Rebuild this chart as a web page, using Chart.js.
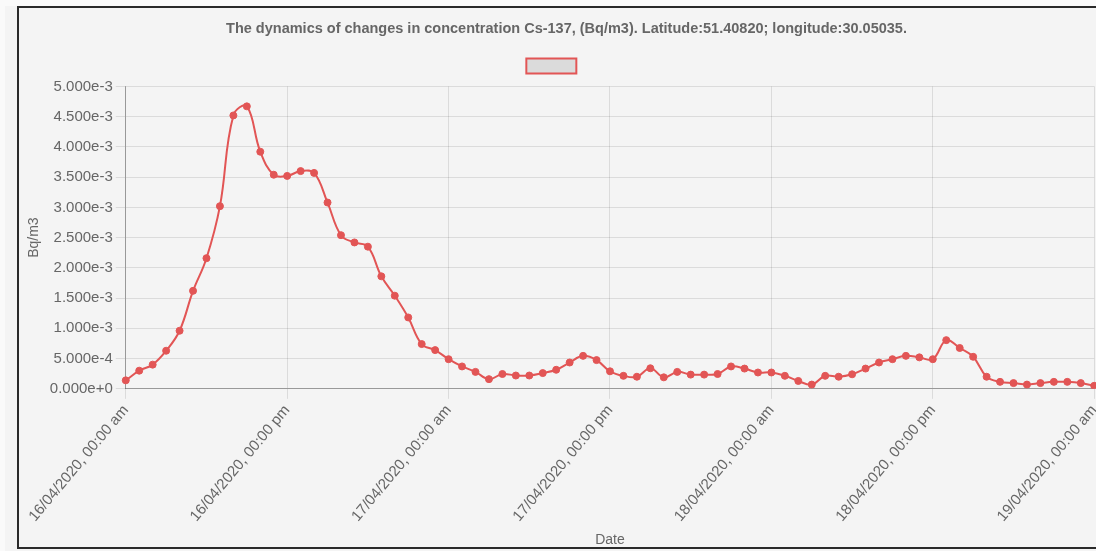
<!DOCTYPE html>
<html>
<head>
<meta charset="utf-8">
<script src="https://cdn.jsdelivr.net/npm/chart.js@4.4.0/dist/chart.umd.min.js"></script>
<style>
    body { margin: 0; background: #fafafa; overflow: hidden; font-family: "Liberation Sans", Arial, sans-serif; }
    #back { position: absolute; left: 5px; top: 6px; width: 1200px; height: 560px; background: #f4f4f4; }
    #box { position: absolute; left: 17px; top: 6px; width: 1092px; height: 539px; border: 2px solid #2a2a2a; background: #f4f4f4; }
    #wrap { position: relative; width: 1092px; height: 539px; }
</style>
</head>
<body>
<div id="back"></div>
<div id="box"><div id="wrap"><canvas id="cs137Chart"></canvas></div></div>
<script>
const chartTitle = "The dynamics of changes in concentration Cs-137, (Bq/m3). Latitude:51.40820; longitude:30.05035.";

// hourly readings from 16/04/2020 00:00 to 19/04/2020 00:00
const startDays = ["16/04/2020", "17/04/2020", "18/04/2020", "19/04/2020"];
const concentration = [
    1.4e-4, 3.0e-4, 4.0e-4, 6.3e-4, 9.6e-4, 1.62e-3, 2.16e-3, 3.02e-3, 4.52e-3, 4.67e-3, 3.92e-3, 3.54e-3,
    3.52e-3, 3.60e-3, 3.57e-3, 3.08e-3, 2.54e-3, 2.42e-3, 2.35e-3, 1.86e-3, 1.54e-3, 1.18e-3, 7.4e-4, 6.4e-4,
    4.9e-4, 3.7e-4, 2.8e-4, 1.6e-4, 2.45e-4, 2.2e-4, 2.2e-4, 2.6e-4, 3.15e-4, 4.35e-4, 5.45e-4, 4.75e-4,
    2.9e-4, 2.15e-4, 2.0e-4, 3.4e-4, 1.9e-4, 2.8e-4, 2.35e-4, 2.35e-4, 2.45e-4, 3.7e-4, 3.35e-4, 2.7e-4,
    2.7e-4, 2.15e-4, 1.3e-4, 7e-5, 2.15e-4, 2.0e-4, 2.4e-4, 3.35e-4, 4.35e-4, 4.9e-4, 5.45e-4, 5.2e-4,
    4.9e-4, 8.05e-4, 6.75e-4, 5.3e-4, 2.0e-4, 1.15e-4, 9.5e-5, 7e-5, 9.5e-5, 1.15e-4, 1.15e-4, 9.5e-5,
    5e-5
];

// category labels, one per hour
const labels = [];
for (let i = 0; i < concentration.length; i++) {
    const day = startDays[Math.floor(i / 24)];
    const h = i % 24;
    const h12 = h % 12;
    labels.push(day + ", " + String(h12).padStart(2, "0") + ":00 " + (h < 12 ? "am" : "pm"));
}

const grey = "#666";
Chart.defaults.font.family = "'Liberation Sans', Arial, sans-serif";
Chart.defaults.color = grey;

// extra gap under the legend
const legendGap = {
    id: "legendGap",
    beforeInit(chart) {
        const fit = chart.legend.fit;
        chart.legend.fit = function () {
            fit.call(this);
            this.height += 3;
        };
    }
};

const ctx = document.getElementById("cs137Chart").getContext("2d");

const cs137Chart = new Chart(ctx, {
    type: "line",
    data: {
        labels: labels,
        datasets: [
            {
                label: "      ",
                data: concentration,
                borderColor: "#e25555",
                backgroundColor: "rgba(0, 0, 0, 0.1)",
                pointBackgroundColor: "#e25555",
                pointBorderColor: "#e25555",
                pointRadius: 3.5,
                pointBorderWidth: 1,
                borderWidth: 2,
                fill: false,
                tension: 0.4
            }
        ]
    },
    plugins: [legendGap],
    options: {
        responsive: true,
        maintainAspectRatio: false,
        animation: false,
        layout: { padding: { left: 3, right: 0, top: 2, bottom: -2 } },
        plugins: {
            title: {
                display: true,
                text: chartTitle,
                color: grey,
                font: { size: 14.5, weight: "bold" },
                padding: { top: 10, bottom: 11 }
            },
            legend: {
                labels: { boxWidth: 50, boxHeight: 15, font: { size: 14 } }
            },
            tooltip: { enabled: false }
        },
        scales: {
            x: {
                grid: { color: "rgba(0,0,0,0.1)", tickLength: 10 },
                border: { color: "rgba(0,0,0,0.3)" },
                ticks: {
                    autoSkip: false,
                    minRotation: 50,
                    maxRotation: 50,
                    font: { size: 15 },
                    color: grey,
                    callback: function (val, idx) {
                        return idx % 12 === 0 ? this.getLabelForValue(val) : null;
                    }
                },
                title: { display: true, text: "Date", color: grey, font: { size: 14 }, padding: { top: 4, bottom: 0 } }
            },
            y: {
                min: 0,
                max: 0.005,
                grid: { color: "rgba(0,0,0,0.1)", tickLength: 10 },
                border: { color: "rgba(0,0,0,0.3)" },
                ticks: {
                    stepSize: 0.0005,
                    font: { size: 15 },
                    color: grey,
                    callback: (v) => v.toExponential(3)
                },
                title: { display: true, text: "Bq/m3", color: grey, font: { size: 14 } }
            }
        }
    }
});
</script>
</body>
</html>
